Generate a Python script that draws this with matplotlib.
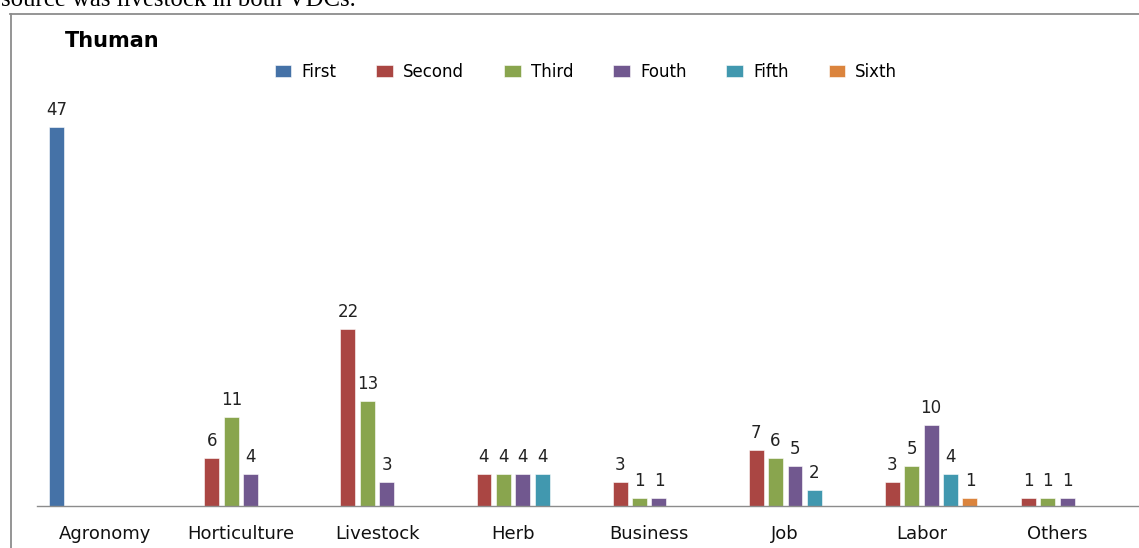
import matplotlib
matplotlib.use('Agg')
from matplotlib import pyplot as plt
from matplotlib.lines import Line2D
import numpy as np

categories = ['Agronomy', 'Horticulture', 'Livestock', 'Herb', 'Business', 'Job', 'Labor', 'Others']
series = ['First', 'Second', 'Third', 'Fouth', 'Fifth', 'Sixth']
first = [47, 0, 0, 0, 0, 0, 0, 0]
second = [0, 6, 22, 4, 3, 7, 3, 1]
third = [0, 11, 13, 4, 1, 6, 5, 1]
fouth = [0, 4, 3, 4, 1, 5, 10, 1]
fifth = [0, 0, 0, 4, 0, 2, 4, 0]
sixth = [0, 0, 0, 0, 0, 0, 1, 0]
values = [first, second, third, fouth, fifth, sixth]
colors = ['#4572A7', '#AA4643', '#89A54E', '#71588F', '#4198AF', '#DB843D']

W, H = 1139, 548
fig = plt.figure(figsize=(W / 100, H / 100), dpi=100)

# axes placed in pixel terms: baseline at y=506 px from top, 8.06 px per unit
px_per_unit = 8.06
ymax = 50
ax = fig.add_axes([37 / W, (H - 506) / H, 1 - 37 / W, ymax * px_per_unit / H])

x = np.arange(len(categories))
slot = 0.143
bw = 0.11
for j, (name, vals, c) in enumerate(zip(series, values, colors)):
    xs = x + (j - 2.5) * slot
    ax.bar(xs, vals, width=bw, color=c, label=name, edgecolor='white', linewidth=0.4)
    for xi, v in zip(xs, vals):
        if v > 0:
            ax.text(xi, v + 1.0, str(v), ha='center', va='bottom', fontsize=12, color='#222222')

ax.set_xlim(-0.5, 7.6)
ax.set_ylim(0, ymax)
ax.set_xticks(x)
ax.set_xticklabels(categories, fontsize=13, color='#111111')
ax.tick_params(axis='x', length=0, pad=14)
ax.set_yticks([])
for s in ['top', 'right', 'left']:
    ax.spines[s].set_visible(False)
ax.spines['bottom'].set_color('#8c8c8c')
ax.spines['bottom'].set_linewidth(1.0)

# chart title and legend
fig.text(65 / W, 1 - 41 / H, 'Thuman', fontsize=15, fontweight='bold', va='center', ha='left')
fig.legend(loc='center', bbox_to_anchor=(586 / W, 1 - 72 / H), ncol=6, frameon=False,
           fontsize=12, handlelength=1.0, handleheight=0.7, handletextpad=0.6,
           columnspacing=2.4)

# chart border (cropped)
fig.add_artist(Line2D([10.5 / W, 10.5 / W], [0, 1 - 14 / H], color='#8c8c8c', linewidth=1.3))
fig.add_artist(Line2D([10 / W, 1], [1 - 14 / H, 1 - 14 / H], color='#8c8c8c', linewidth=1.3))

# cropped document text above the chart
fig.text(1 / W, 1 - 6 / H, 'source was livestock in both VDCs.', family='Liberation Serif',
         fontsize=17.8, va='baseline', ha='left')

fig.savefig('out.png', dpi=100)
